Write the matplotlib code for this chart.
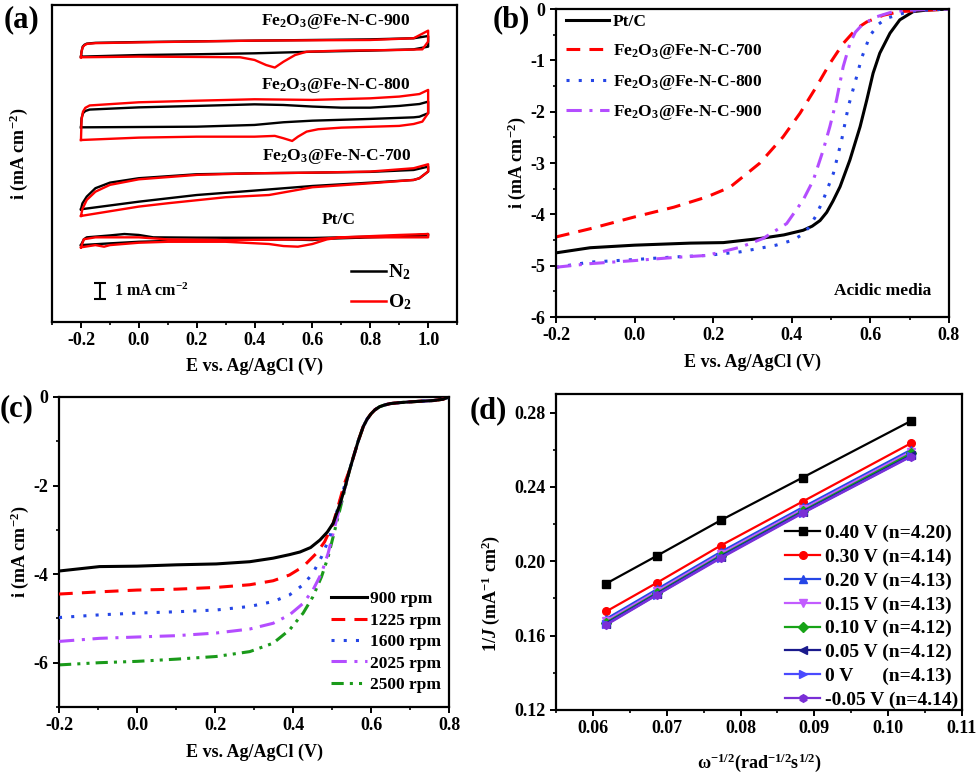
import matplotlib
matplotlib.use("Agg")
import matplotlib.pyplot as plt
from matplotlib.ticker import MultipleLocator
from matplotlib.lines import Line2D

plt.rcParams.update({
    "font.family": ["Liberation Serif", "DejaVu Serif"],
    "font.weight": "bold",
    "axes.labelweight": "bold",
    "mathtext.fontset": "custom",
    "mathtext.rm": "Liberation Serif:bold",
    "mathtext.it": "Liberation Serif:italic:bold",
    "mathtext.bf": "Liberation Serif:bold",
    "axes.unicode_minus": False,
    "axes.linewidth": 1.6,
    "xtick.direction": "out",
    "ytick.direction": "out",
    "xtick.major.width": 1.4,
    "ytick.major.width": 1.4,
    "xtick.minor.width": 1.2,
    "ytick.minor.width": 1.2,
    "xtick.major.size": 4,
    "ytick.major.size": 4,
    "xtick.minor.size": 2.5,
    "ytick.minor.size": 2.5,
})

# ---------------- (a) CV data (current in mA cm-2, relative to each trace's baseline)
cv900_n2_up_E = [-0.2, -0.198, -0.194, -0.188, -0.18, -0.15, 0.0, 0.4, 0.8, 0.95, 1.0]
cv900_n2_up_i = [-0.42, -0.1, 0.21, 0.33, 0.40, 0.45, 0.50, 0.59, 0.67, 0.74, 0.88]
cv900_n2_dn_E = [1.0, 0.95, 0.8, 0.6, 0.4, 0.2, 0.0, -0.2]
cv900_n2_dn_i = [0.21, 0.04, -0.04, -0.11, -0.21, -0.27, -0.32, -0.42]
cv900_o2_up_E = [-0.2, -0.198, -0.194, -0.188, -0.18, -0.15, 0.0, 0.4, 0.8, 0.95, 1.0]
cv900_o2_up_i = [-0.46, -0.1, 0.17, 0.30, 0.38, 0.43, 0.48, 0.59, 0.63, 0.74, 1.22]
cv900_o2_dn_E = [1.0, 0.98, 0.9, 0.7, 0.58, 0.54, 0.5, 0.47, 0.44, 0.40, 0.35, 0.2, 0.0, -0.2]
cv900_o2_dn_i = [0.53, 0.04, 0.0, -0.04, -0.11, -0.32, -0.74, -1.11, -0.95, -0.63, -0.46, -0.44, -0.42, -0.46]

cv800_n2_up_E = [-0.2, -0.198, -0.193, -0.185, -0.17, 0.0, 0.2, 0.4, 0.5, 0.6, 0.7, 0.8, 0.9, 0.97, 1.0]
cv800_n2_up_i = [-0.78, -0.2, 0.11, 0.25, 0.34, 0.48, 0.57, 0.67, 0.63, 0.53, 0.46, 0.46, 0.57, 0.69, 0.84]
cv800_n2_dn_E = [1.0, 0.97, 0.95, 0.8, 0.6, 0.5, 0.4, 0.2, 0.0, -0.2]
cv800_n2_dn_i = [0.11, -0.11, -0.15, -0.25, -0.36, -0.46, -0.63, -0.74, -0.76, -0.78]
cv800_o2_up_E = [-0.2, -0.198, -0.193, -0.185, -0.17, 0.0, 0.2, 0.4, 0.6, 0.8, 0.9, 0.97, 1.0]
cv800_o2_up_i = [-1.58, -0.3, 0.21, 0.45, 0.60, 0.80, 0.90, 0.99, 0.95, 1.05, 1.16, 1.32, 1.58]
cv800_o2_dn_E = [1.0, 0.98, 0.95, 0.9, 0.7, 0.62, 0.58, 0.55, 0.53, 0.5, 0.47, 0.4, 0.2, 0.0, -0.2]
cv800_o2_dn_i = [0.11, -0.42, -0.57, -0.69, -0.80, -0.90, -1.05, -1.37, -1.64, -1.47, -1.32, -1.37, -1.37, -1.43, -1.58]

cv700_n2_up_E = [-0.2, -0.195, -0.18, -0.15, -0.1, 0.0, 0.2, 0.4, 0.6, 0.8, 0.95, 1.0]
cv700_n2_up_i = [-1.22, -0.85, -0.42, 0.11, 0.46, 0.74, 0.99, 1.05, 1.09, 1.14, 1.26, 1.47]
cv700_n2_dn_E = [1.0, 0.97, 0.95, 0.8, 0.6, 0.4, 0.2, 0.0, -0.2]
cv700_n2_dn_i = [1.16, 0.74, 0.63, 0.46, 0.25, -0.04, -0.32, -0.74, -1.22]
cv700_o2_up_E = [-0.2, -0.195, -0.18, -0.15, -0.1, 0.0, 0.2, 0.4, 0.6, 0.8, 0.95, 1.0]
cv700_o2_up_i = [-1.64, -1.2, -0.63, -0.11, 0.32, 0.67, 0.95, 1.05, 1.09, 1.16, 1.37, 1.62]
cv700_o2_dn_E = [1.0, 0.97, 0.95, 0.8, 0.6, 0.45, 0.3, 0.1, 0.0, -0.2]
cv700_o2_dn_i = [1.16, 0.74, 0.63, 0.42, 0.17, -0.32, -0.46, -0.84, -1.05, -1.64]

cvpt_n2_up_E = [-0.2, -0.19, -0.18, -0.1, -0.05, 0.0, 0.05, 0.2, 0.6, 0.8, 0.95, 1.0]
cvpt_n2_up_i = [-0.32, 0.05, 0.17, 0.29, 0.38, 0.32, 0.17, 0.15, 0.13, 0.21, 0.29, 0.38]
cvpt_n2_dn_E = [1.0, 0.8, 0.65, 0.6, 0.5, 0.3, 0.1, 0.0, -0.1, -0.2]
cvpt_n2_dn_i = [0.29, 0.17, 0.08, 0.0, 0.04, 0.0, -0.06, -0.11, -0.21, -0.32]
cvpt_o2_up_E = [-0.2, -0.19, -0.15, -0.05, 0.0, 0.1, 0.3, 0.6, 0.7, 0.9, 1.0]
cvpt_o2_up_i = [-0.46, 0.05, 0.17, 0.17, 0.17, 0.04, 0.0, 0.04, 0.17, 0.32, 0.38]
cvpt_o2_dn_E = [1.0, 0.9, 0.7, 0.65, 0.6, 0.55, 0.5, 0.45, 0.3, 0.1, 0.0, -0.1, -0.12, -0.15, -0.2]
cvpt_o2_dn_i = [0.17, 0.17, 0.17, 0.04, -0.25, -0.42, -0.38, -0.25, -0.11, -0.11, -0.17, -0.32, -0.42, -0.32, -0.46]

cv_names = ["Fe$_2$O$_3$@Fe-N-C-900", "Fe$_2$O$_3$@Fe-N-C-800", "Fe$_2$O$_3$@Fe-N-C-700", "Pt/C"]
cv_offsets = [17.16, 13.06, 8.33, 5.17]

# ---------------- (b) LSV of samples
b_pt_E = [-0.2, -0.113, 0.0, 0.142, 0.226, 0.319, 0.38, 0.429, 0.452, 0.472, 0.489, 0.505, 0.523, 0.548, 0.574,
          0.591, 0.607, 0.624, 0.650, 0.675, 0.709, 0.743, 0.8]
b_pt_i = [-4.75, -4.65, -4.60, -4.56, -4.55, -4.47, -4.40, -4.31, -4.23, -4.12, -3.96, -3.74, -3.46, -2.94, -2.29,
          -1.77, -1.25, -0.86, -0.47, -0.21, -0.05, -0.02, 0.0]
b_700_E = [-0.2, -0.113, 0.0, 0.1, 0.184, 0.243, 0.319, 0.378, 0.421, 0.463, 0.497, 0.531, 0.565, 0.591, 0.633, 0.675, 0.8]
b_700_i = [-4.44, -4.28, -4.05, -3.86, -3.66, -3.47, -3.00, -2.49, -2.03, -1.51, -1.06, -0.67, -0.38, -0.25, -0.12, -0.05, 0.0]
b_800_E = [-0.2, -0.113, 0.0, 0.1, 0.184, 0.269, 0.319, 0.36, 0.404, 0.425, 0.443, 0.46, 0.480, 0.506, 0.527, 0.544,
           0.565, 0.578, 0.599, 0.620, 0.641, 0.684, 0.718, 0.8]
b_800_i = [-5.03, -4.93, -4.88, -4.83, -4.80, -4.73, -4.66, -4.60, -4.50, -4.40, -4.26, -4.05, -3.72, -3.20, -2.55, -1.90,
           -1.32, -0.95, -0.52, -0.30, -0.18, -0.08, -0.03, 0.0]
b_900_E = [-0.2, -0.113, 0.0, 0.1, 0.184, 0.269, 0.327, 0.387, 0.429, 0.455, 0.480, 0.497, 0.514, 0.531, 0.548,
           0.562, 0.580, 0.616, 0.658, 0.70, 0.8]
b_900_i = [-5.03, -4.96, -4.90, -4.84, -4.80, -4.64, -4.47, -4.18, -3.72, -3.33, -2.75, -2.29, -1.77, -1.12, -0.67,
           -0.45, -0.30, -0.15, -0.05, -0.02, 0.0]
b_labels = ["Pt/C", "Fe$_2$O$_3$@Fe-N-C-700", "Fe$_2$O$_3$@Fe-N-C-800", "Fe$_2$O$_3$@Fe-N-C-900"]

# ---------------- (c) LSV at rotation rates
c_tail_E = [0.545, 0.555, 0.567, 0.580, 0.590, 0.600, 0.610, 0.622, 0.635, 0.649, 0.670, 0.700, 0.760, 0.785, 0.8]
c_tail_i = [-1.65, -1.35, -1.00, -0.67, -0.50, -0.38, -0.29, -0.22, -0.18, -0.15, -0.13, -0.11, -0.08, -0.05, 0.0]
c_900_E = [-0.2, -0.096, 0.0, 0.101, 0.203, 0.289, 0.349, 0.391, 0.418, 0.445, 0.469, 0.488, 0.503, 0.521, 0.533]
c_900_i = [-3.93, -3.83, -3.82, -3.79, -3.77, -3.72, -3.64, -3.56, -3.50, -3.40, -3.23, -3.05, -2.85, -2.40, -2.05]
c_1225_E = [-0.2, -0.096, 0.0, 0.101, 0.203, 0.289, 0.349, 0.391, 0.426, 0.460, 0.481, 0.503, 0.520, 0.532]
c_1225_i = [-4.45, -4.40, -4.36, -4.34, -4.30, -4.24, -4.15, -4.02, -3.83, -3.53, -3.27, -2.85, -2.33, -1.95]
c_1600_E = [-0.2, -0.096, 0.0, 0.101, 0.203, 0.289, 0.349, 0.391, 0.426, 0.451, 0.473, 0.494, 0.511, 0.527]
c_1600_i = [-4.98, -4.92, -4.88, -4.85, -4.81, -4.73, -4.62, -4.47, -4.24, -3.98, -3.61, -3.16, -2.63, -2.15]
c_2025_E = [-0.2, -0.096, 0.0, 0.101, 0.203, 0.289, 0.349, 0.391, 0.426, 0.451, 0.473, 0.490, 0.507, 0.527]
c_2025_i = [-5.52, -5.45, -5.42, -5.39, -5.33, -5.24, -5.11, -4.92, -4.66, -4.36, -3.98, -3.53, -2.93, -2.25]
c_2500_E = [-0.2, -0.096, 0.0, 0.101, 0.203, 0.289, 0.349, 0.391, 0.426, 0.451, 0.473, 0.490, 0.507, 0.527]
c_2500_i = [-6.05, -6.00, -5.97, -5.92, -5.86, -5.75, -5.56, -5.26, -4.88, -4.51, -4.06, -3.61, -3.01, -2.30]
c_labels = ["900 rpm", "1225 rpm", "1600 rpm", "2025 rpm", "2500 rpm"]

# ---------------- (d) K-L plots
d_x = [0.0618, 0.0687, 0.0773, 0.0884, 0.1031]
d_y = [
    [0.188, 0.203, 0.222, 0.245, 0.2755],
    [0.173, 0.1885, 0.2084, 0.2321, 0.2635],
    [0.169, 0.185, 0.205, 0.229, 0.260],
    [0.168, 0.184, 0.204, 0.228, 0.259],
    [0.167, 0.183, 0.203, 0.227, 0.258],
    [0.1665, 0.1825, 0.2025, 0.2265, 0.257],
    [0.166, 0.182, 0.202, 0.226, 0.2565],
    [0.1657, 0.1819, 0.2016, 0.2258, 0.2563],
]
d_labels = ["0.40 V (n=4.20)", "0.30 V (n=4.14)", "0.20 V (n=4.13)", "0.15 V (n=4.13)",
            "0.10 V (n=4.12)", "0.05 V (n=4.12)", "0 V      (n=4.13)", "-0.05 V (n=4.14)"]
d_colors = ["#000000", "#ff0000", "#2546e6", "#c25cff", "#17a317", "#1a1a8c", "#4a4aff", "#7a2fd6"]
d_markers = ["s", "o", "^", "v", "D", "<", ">", "h"]

fig = plt.figure(figsize=(9.8, 7.74), dpi=100)

# ======== (a)
axa = fig.add_axes([0.0531, 0.584, 0.4133, 0.4096])
cv_sets = [
    (cv900_n2_up_E, cv900_n2_up_i, cv900_n2_dn_E, cv900_n2_dn_i, cv900_o2_up_E, cv900_o2_up_i, cv900_o2_dn_E, cv900_o2_dn_i),
    (cv800_n2_up_E, cv800_n2_up_i, cv800_n2_dn_E, cv800_n2_dn_i, cv800_o2_up_E, cv800_o2_up_i, cv800_o2_dn_E, cv800_o2_dn_i),
    (cv700_n2_up_E, cv700_n2_up_i, cv700_n2_dn_E, cv700_n2_dn_i, cv700_o2_up_E, cv700_o2_up_i, cv700_o2_dn_E, cv700_o2_dn_i),
    (cvpt_n2_up_E, cvpt_n2_up_i, cvpt_n2_dn_E, cvpt_n2_dn_i, cvpt_o2_up_E, cvpt_o2_up_i, cvpt_o2_dn_E, cvpt_o2_dn_i),
]
for (nuE, nui, ndE, ndi, ouE, oui, odE, odi), off in zip(cv_sets, cv_offsets):
    axa.plot(nuE + ndE + [nuE[0]], [v + off for v in nui + ndi + [nui[0]]], color="black", lw=1.7,
             solid_joinstyle="round", zorder=2)
    axa.plot(ouE + odE + [ouE[0]], [v + off for v in oui + odi + [oui[0]]], color="#ff0000", lw=1.7,
             solid_joinstyle="round", zorder=3)
label_pos_a = [(0.68, 18.93), (0.68, 14.95), (0.685, 10.41), (0.69, 6.44)]
for name, (xx, yy) in zip(cv_names, label_pos_a):
    axa.text(xx, yy, name, ha="center", va="center", fontsize=12.5, fontweight="bold")
axa.set_xlim(-0.3, 1.1)
axa.set_ylim(0, 20)
axa.set_yticks([])
axa.xaxis.set_major_locator(MultipleLocator(0.2))
axa.xaxis.set_minor_locator(MultipleLocator(0.1))
axa.tick_params(axis="x", labelsize=13)
axa.set_xlabel("E vs. Ag/AgCl (V)", fontsize=13, labelpad=6)
axa.set_ylabel("i (mA cm$^{-2}$)", fontsize=13, labelpad=8)
axa.yaxis.set_label_coords(-0.055, 0.53)
# scale bar 1 mA cm-2
axa.errorbar([-0.134], [1.95], yerr=[0.5], color="black", capsize=4, elinewidth=1.5, capthick=1.5, fmt="none")
axa.text(-0.085, 1.95, "1 mA cm$^{-2}$", fontsize=11.5, va="center", ha="left", fontweight="bold")
h_a = [Line2D([], [], color="black", lw=1.8), Line2D([], [], color="#ff0000", lw=1.8)]
axa.legend(h_a, ["N$_2$", "O$_2$"], loc="lower right", bbox_to_anchor=(0.93, -0.025), frameon=False,
           fontsize=14, handlelength=1.8, handletextpad=0.1, labelspacing=0.55)
fig.text(0.004, 0.975, "(a)", fontsize=22, fontweight="bold", va="center")

# ======== (b)
axb = fig.add_axes([0.5673, 0.5904, 0.4010, 0.3979])
axb.plot(b_pt_E, b_pt_i, color="black", lw=2.2, label=b_labels[0])
axb.plot(b_700_E, b_700_i, color="#ff0000", lw=2.2, dashes=(4.5, 3), label=b_labels[1])
axb.plot(b_800_E, b_800_i, color="#2546e6", lw=2.2, dashes=(1, 3), label=b_labels[2])
axb.plot(b_900_E, b_900_i, color="#b44dff", lw=2.2, dashes=(5, 2.5, 1, 2.5), label=b_labels[3])
axb.set_xlim(-0.2, 0.8)
axb.set_ylim(-6, 0)
axb.xaxis.set_major_locator(MultipleLocator(0.2))
axb.xaxis.set_minor_locator(MultipleLocator(0.1))
axb.yaxis.set_major_locator(MultipleLocator(1))
axb.yaxis.set_minor_locator(MultipleLocator(0.5))
axb.tick_params(labelsize=13)
axb.set_xlabel("E vs. Ag/AgCl (V)", fontsize=13, labelpad=7)
axb.set_ylabel("i (mA cm$^{-2}$)", fontsize=13, labelpad=2)
axb.legend(loc="upper left", bbox_to_anchor=(-0.015, 1.035), frameon=False, fontsize=12.5,
           handlelength=2.5, handletextpad=0.2, labelspacing=0.68)
axb.text(0.955, 0.085, "Acidic media", transform=axb.transAxes, ha="right", va="center", fontsize=12.5,
         fontweight="bold")
fig.text(0.503, 0.975, "(b)", fontsize=22, fontweight="bold", va="center")

# ======== (c)
axc = fig.add_axes([0.0602, 0.0866, 0.398, 0.4005])
axc.plot(c_900_E + c_tail_E, c_900_i + c_tail_i, color="black", lw=2.2, label=c_labels[0], zorder=6)
axc.plot(c_1225_E + c_tail_E, c_1225_i + c_tail_i, color="#ff0000", lw=2.2, dashes=(4.5, 3), label=c_labels[1], zorder=5)
axc.plot(c_1600_E + c_tail_E, c_1600_i + c_tail_i, color="#2546e6", lw=2.2, dashes=(1, 3), label=c_labels[2], zorder=4)
axc.plot(c_2025_E + c_tail_E, c_2025_i + c_tail_i, color="#b44dff", lw=2.2, dashes=(5, 2.5, 1, 2.5), label=c_labels[3], zorder=3)
axc.plot(c_2500_E + c_tail_E, c_2500_i + c_tail_i, color="#1a9a1a", lw=2.2, dashes=(4, 2, 1, 2, 1, 2), label=c_labels[4], zorder=2)
axc.set_xlim(-0.2, 0.8)
axc.set_ylim(-7, 0)
axc.xaxis.set_major_locator(MultipleLocator(0.2))
axc.xaxis.set_minor_locator(MultipleLocator(0.1))
axc.yaxis.set_major_locator(MultipleLocator(2))
axc.yaxis.set_minor_locator(MultipleLocator(1))
axc.tick_params(labelsize=13)
axc.set_xlabel("E vs. Ag/AgCl (V)", fontsize=13, labelpad=7)
axc.set_ylabel("i (mA cm$^{-2}$)", fontsize=13, labelpad=2)
axc.legend(loc="lower right", bbox_to_anchor=(1.02, -0.005), frameon=False, fontsize=12.5,
           handlelength=2.1, handletextpad=0.15, labelspacing=0.3)
fig.text(0.0, 0.472, "(c)", fontsize=22, fontweight="bold", va="center")

# ======== (d)
axd = fig.add_axes([0.5673, 0.0827, 0.4143, 0.4083])
for yy, lab, col, mk in zip(d_y, d_labels, d_colors, d_markers):
    axd.plot(d_x, yy, color=col, marker=mk, markersize=5.5, lw=1.6, label=lab)
axd.set_xlim(0.055, 0.11)
axd.set_ylim(0.12, 0.29)
axd.xaxis.set_major_locator(MultipleLocator(0.01))
axd.xaxis.set_minor_locator(MultipleLocator(0.005))
axd.yaxis.set_major_locator(MultipleLocator(0.04))
axd.yaxis.set_minor_locator(MultipleLocator(0.02))
axd.tick_params(labelsize=13)
axd.set_xlabel("ω$^{-1/2}$(rad$^{-1/2}$s$^{1/2}$)", fontsize=13, labelpad=10)
axd.set_ylabel("1/$J$ (mA$^{-1}$ cm$^{2}$)", fontsize=13)
axd.yaxis.set_label_coords(-0.133, 0.37)
axd.legend(loc="upper right", bbox_to_anchor=(1.02, 0.625), frameon=False, fontsize=14,
           handlelength=1.8, handletextpad=0.25, labelspacing=0.32, borderaxespad=0.2)
fig.text(0.479, 0.47, "(d)", fontsize=22, fontweight="bold", va="center")

fig.savefig("out.png", dpi=100)
